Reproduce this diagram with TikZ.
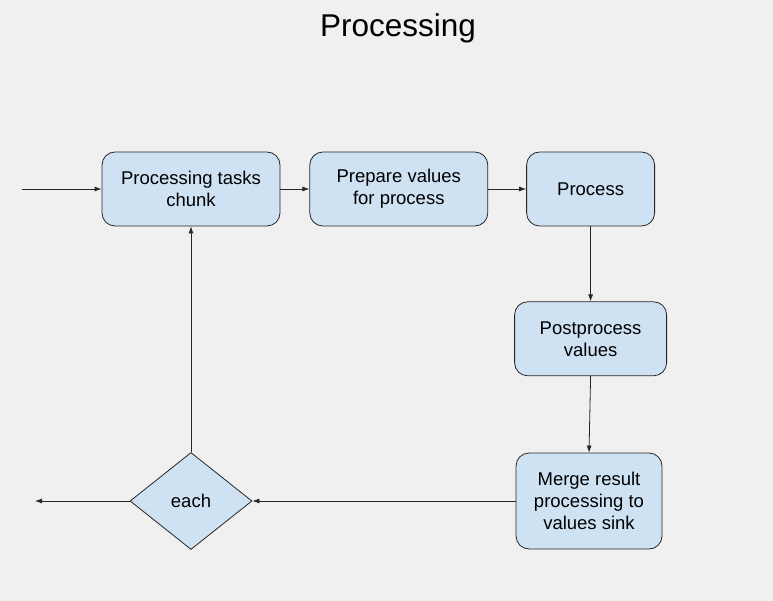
\documentclass[tikz,border=0pt]{standalone}
\usepackage{fontspec}
\setmainfont{Liberation Sans}
\usepackage{tikz}
\usetikzlibrary{shapes.geometric, arrows.meta, positioning}

\definecolor{boxfill}{HTML}{CFE2F3}
\definecolor{bgcol}{HTML}{F0F0F0}

\begin{document}
\begin{tikzpicture}[
  x=1pt, y=-1pt,
  every node/.style={font=\fontsize{18.5}{22}\selectfont, align=center},
  stepbox/.style={draw=black!85, line width=0.8pt, rounded corners=13pt, fill=boxfill, minimum height=74pt, inner sep=0pt},
  decision/.style={draw=black!85, line width=0.8pt, diamond, fill=boxfill, minimum width=122pt, minimum height=97pt, inner sep=0pt},
  arrow/.style={-{Latex[length=7pt,width=5pt]}, line width=0.8pt, draw=black!85}
]
\fill[bgcol] (0,0) rectangle (773,601);
\useasboundingbox (0,0) rectangle (773,601);

\node[font=\fontsize{31.5}{36}\selectfont] (title) at (398,28) {Processing};

\node[stepbox, minimum width=178pt] (chunk) at (191,189) {Processing tasks\\chunk};
\node[stepbox, minimum width=178pt, right=29pt of chunk] (prepare) {Prepare values\\for process};
\node[stepbox, minimum width=128pt, right=38pt of prepare] (process) {Process};
\node[stepbox, minimum width=152pt, below=75pt of process] (post) {Postprocess\\values};
\node[stepbox, minimum width=146pt, minimum height=96pt] (merge) at (589,501) {Merge result\\processing to\\values sink};
\node[decision] (each) at (191,501) {each};
\coordinate (entry) at (22,189);
\coordinate (exit) at (35,501);

\draw[arrow] (entry) -- (chunk);
\draw[arrow] (chunk) -- (prepare);
\draw[arrow] (prepare) -- (process);
\draw[arrow] (process) -- (post);
\draw[arrow] (post.south) -- (merge.north);
\draw[arrow] (merge) -- (each);
\draw[arrow] (each) -- (exit);
\draw[arrow] (each) -- (chunk);
\end{tikzpicture}
\end{document}
